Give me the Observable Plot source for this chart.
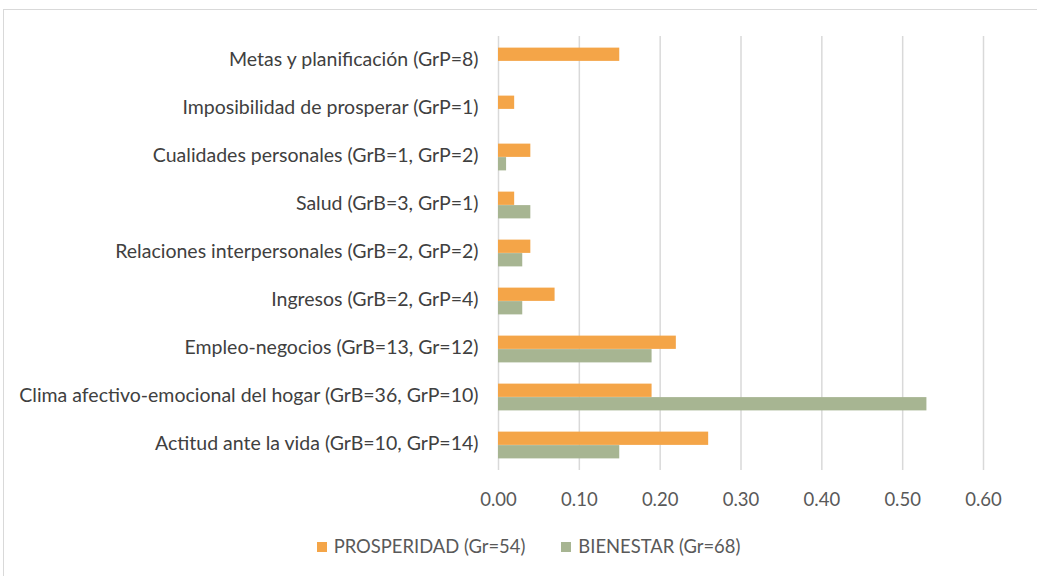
<!DOCTYPE html>
<html>
<head>
<meta charset="utf-8">
<script src="https://cdn.jsdelivr.net/npm/d3@7"></script>
<script src="https://cdn.jsdelivr.net/npm/@observablehq/plot@0.6"></script>
<style>
  html, body { margin: 0; padding: 0; background: #fff; }
  body { width: 1037px; height: 576px; overflow: hidden; position: relative; font-family: Lato, "Liberation Sans", sans-serif; }
  #frame { position: absolute; left: 3px; top: 9px; width: 1100px; height: 600px; border: 1px solid #d9d9d9; box-sizing: border-box; }
  #chart { position: absolute; left: 0; top: 0; }
  #legend { position: absolute; left: 0; top: 535px; width: 1037px; display: flex; justify-content: center; gap: 36px; font-size: 18.4px; color: #595959; padding-left: 20px; box-sizing: border-box; }
  #legend span.sw { display: inline-block; width: 10px; height: 10px; margin-right: 7px; vertical-align: middle; position: relative; top: -1px; }
</style>
</head>
<body>
<div id="frame"></div>
<div id="chart"></div>
<div id="legend"></div>
<script>
const categories = [
  "Metas y planificación (GrP=8)",
  "Imposibilidad de prosperar (GrP=1)",
  "Cualidades personales (GrB=1, GrP=2)",
  "Salud (GrB=3, GrP=1)",
  "Relaciones interpersonales (GrB=2, GrP=2)",
  "Ingresos (GrB=2, GrP=4)",
  "Empleo-negocios (GrB=13, Gr=12)",
  "Clima afectivo-emocional del hogar (GrB=36, GrP=10)",
  "Actitud ante la vida (GrB=10, GrP=14)"
];
const prosperidad = [0.15, 0.02, 0.04, 0.02, 0.04, 0.07, 0.22, 0.19, 0.26];
const bienestar   = [null, null, 0.01, 0.04, 0.03, 0.03, 0.19, 0.53, 0.15];
const seriesNames = ["PROSPERIDAD (Gr=54)", "BIENESTAR (Gr=68)"];
const seriesColors = ["#F4A548", "#A7B592"];
const xTicks = [0, 0.1, 0.2, 0.3, 0.4, 0.5, 0.6];

const dataP = categories.map((c, i) => ({cat: c, v: prosperidad[i]}));
const dataB = categories.map((c, i) => ({cat: c, v: bienestar[i]})).filter(d => d.v != null);

const marginTop = 36, marginBottom = 50, height = 520;
const band = (height - marginTop - marginBottom) / categories.length;
const barH = 13;
const half = band / 2;

const chart = Plot.plot({
  width: 1037,
  height,
  marginLeft: 498,
  marginRight: 54,
  marginTop,
  marginBottom,
  style: {fontFamily: "Lato, 'Liberation Sans', sans-serif", fontSize: "18px", color: "#404040", background: "transparent"},
  x: {domain: [0, 0.6], ticks: xTicks, tickFormat: d3.format(".2f"), grid: false, label: null, tickSize: 0, tickPadding: 22},
  y: {domain: categories, padding: 0, label: null, tickSize: 0, tickPadding: 20},
  marks: [
    Plot.ruleX(xTicks, {stroke: "#d9d9d9", strokeWidth: 1.5}),
    Plot.barX(dataP, {y: "cat", x: "v", fill: seriesColors[0], insetTop: half - barH - 0.5, insetBottom: half}),
    Plot.barX(dataB, {y: "cat", x: "v", fill: seriesColors[1], insetTop: half, insetBottom: half - barH - 0.5}),
    Plot.axisX({ticks: xTicks, tickFormat: d3.format(".2f"), tickSize: 0, tickPadding: 22, fill: "#595959", fontSize: 18.5, label: null}),
    Plot.axisY({tickSize: 0, tickPadding: 20, fill: "#404040", fontSize: 19.5, dy: -2, label: null})
  ]
});
document.getElementById("chart").appendChild(chart);

const legend = document.getElementById("legend");
seriesNames.forEach((n, i) => {
  const item = document.createElement("div");
  item.innerHTML = `<span class="sw" style="background:${seriesColors[i]}"></span>${n}`;
  legend.appendChild(item);
});
</script>
</body>
</html>
